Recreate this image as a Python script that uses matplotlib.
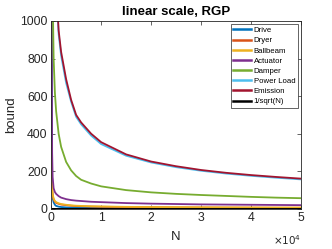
import matplotlib
matplotlib.use('Agg')
import matplotlib.pyplot as plt

plt.rcParams['font.family'] = ['Liberation Sans', 'DejaVu Sans']

# sample sizes
N = [50, 100, 200, 300, 500, 750, 1000, 1500, 2000, 3000, 4000, 5000, 6000, 8000,
     10000, 15000, 20000, 25000, 30000, 35000, 40000, 45000, 50000]

# bound values (values above 1000 are clipped by the axis)
drive = [3000, 1200, 100, 60, 35, 22, 16, 12, 10, 8, 7, 6.5, 6, 5.5,
         5, 4.5, 4, 3.8, 3.6, 3.4, 3.2, 3.1, 3]
dryer = [300, 160, 105, 72, 50, 38, 32, 27, 23, 20, 17, 15, 14, 12.5,
         11.5, 10, 9, 8, 7.5, 7, 6.8, 6.4, 6.2]
ballbeam = [350, 180, 120, 80, 55, 42, 36, 30, 26, 22, 19, 17, 16, 14,
            13, 11, 10, 9, 8.5, 8, 7.5, 7, 7]
actuator = [3000, 1100, 300, 170, 110, 90, 80, 68, 60, 52, 47, 44, 42, 38,
            36, 31, 28, 26, 24, 23, 22, 21, 20]
damper = [5000, 3000, 1800, 1150, 800, 620, 520, 400, 330, 250, 205, 175, 155, 135,
          120, 100, 88, 80, 74, 69, 64, 60, 57]
power_load = [9000, 6000, 4500, 3500, 2500, 1600, 1180, 930, 815, 670, 570, 490, 450, 390,
              345, 283, 247, 222, 203, 188, 176, 166, 157]
emission = [9000, 6000, 4500, 3500, 2500, 1620, 1200, 950, 835, 690, 580, 500, 460, 400,
            355, 290, 252, 227, 207, 192, 180, 170, 161]
inv_sqrt = [0.14, 0.1, 0.071, 0.058, 0.045, 0.037, 0.032, 0.026, 0.022, 0.018, 0.016, 0.014,
            0.013, 0.011, 0.01, 0.008, 0.007, 0.006, 0.006, 0.005, 0.005, 0.005, 0.004]

series = [
    ('Drive', drive, '#0072BD'),
    ('Dryer', dryer, '#D95319'),
    ('Ballbeam', ballbeam, '#EDB120'),
    ('Actuator', actuator, '#7E2F8E'),
    ('Damper', damper, '#77AC30'),
    ('Power Load', power_load, '#4DBEEE'),
    ('Emission', emission, '#A2142F'),
    ('1/sqrt(N)', inv_sqrt, '#000000'),
]

fig = plt.figure(figsize=(3.32, 2.49), dpi=100)
ax = fig.add_axes([0.154, 0.161, 0.753, 0.755])

for name, vals, col in series:
    ax.plot(N, vals, color=col, lw=1.3, label=name)

ax.set_xlim(0, 50000)
ax.set_ylim(0, 1000)
ax.set_xticks([0, 10000, 20000, 30000, 40000, 50000])
ax.set_xticklabels(['0', '1', '2', '3', '4', '5'])
ax.set_yticks([0, 200, 400, 600, 800, 1000])

tc = '#262626'
ax.tick_params(direction='in', length=3, width=0.5, labelsize=8.8, colors=tc,
               top=True, right=True, pad=2.5)
for sp in ax.spines.values():
    sp.set_linewidth(0.6)
    sp.set_color(tc)

ax.set_xlabel('N', fontsize=9.5, color=tc, labelpad=5)
ax.set_ylabel('bound', fontsize=9.5, color=tc, labelpad=2)
ax.set_title('linear scale, RGP', fontsize=9.5, fontweight='bold', color='black', pad=4)
ax.text(1.0, -0.165, r'$\times10^{4}$', transform=ax.transAxes, ha='right', va='center',
        fontsize=7.5, color=tc)

leg = ax.legend(loc='upper right', fontsize=5.6, handlelength=2.3, handletextpad=0.3,
                labelspacing=0.35, borderpad=0.35, borderaxespad=0.4, fancybox=False,
                framealpha=1, edgecolor='#262626')
leg.get_frame().set_linewidth(0.5)
for line in leg.get_lines():
    line.set_linewidth(1.8)

fig.savefig('out.png', dpi=100)
